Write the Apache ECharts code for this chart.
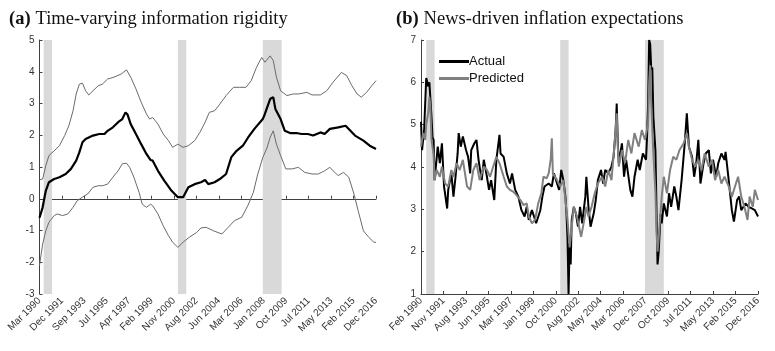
<!DOCTYPE html>
<html><head><meta charset="utf-8">
<script src="https://cdn.jsdelivr.net/npm/echarts@6/dist/echarts.min.js"></script>
<style>html,body{margin:0;padding:0;background:#fff}#c{width:775px;height:351px}</style>
</head><body><div id="c"></div>
<script>
// ---- tick labels ----
const leftTicks = ["Mar 1990","Dec 1991","Sep 1993","Jul 1995","Apr 1997","Feb 1999","Nov 2000","Aug 2002","Jun 2004","Mar 2006","Jan 2008","Oct 2009","Jul 2011","May 2013","Feb 2015","Dec 2016"];
const rightTicks = ["Feb 1990","Nov 1991","Aug 1993","Jun 1995","Mar 1997","Jan 1999","Oct 2000","Aug 2002","May 2004","Mar 2006","Dec 2007","Oct 2009","Jul 2011","May 2013","Feb 2015","Dec 2016"];
const leftLastIndex = 321;   // months since Mar 1990
const rightLastIndex = 322;  // months since Feb 1990
// ---- recession bands (month index) ----
const leftRecessions = [[4,12],[132,140],[213,231]];
const rightRecessions = [[5,13],[133,141],[214,232]];
// ---- panel (a): [month index, value] ----
const rigidityMid = [[0,-0.6],[3,-0.27],[6,0.25],[9,0.52],[14,0.62],[19,0.68],[25,0.78],[30,0.94],[35,1.2],[38,1.46],[41,1.78],[44,1.88],[51,1.99],[57,2.04],[62,2.04],[65,2.14],[70,2.25],[75,2.41],[79,2.51],[82,2.72],[84,2.65],[87,2.35],[92,2.04],[97,1.72],[102,1.41],[106,1.22],[108,1.2],[113,0.88],[119,0.57],[126,0.25],[132,0.05],[137,0.05],[142,0.36],[148,0.46],[154,0.52],[158,0.59],[161,0.46],[167,0.52],[172,0.62],[178,0.78],[183,1.31],[188,1.51],[194,1.67],[199,1.93],[205,2.2],[213,2.51],[215,2.67],[220,3.14],[223,3.2],[225,2.83],[230,2.51],[234,2.14],[239,2.07],[245,2.07],[250,2.04],[256,2.04],[261,1.99],[268,2.09],[272,2.04],[277,2.2],[285,2.25],[292,2.3],[295,2.2],[301,1.99],[309,1.83],[315,1.67],[321,1.57]];
const rigidityUpper = [[0,0.6],[3,0.62],[6,1.04],[9,1.36],[14,1.51],[19,1.67],[24,1.99],[28,2.3],[32,2.77],[35,3.3],[38,3.61],[41,3.64],[44,3.4],[47,3.27],[51,3.4],[56,3.56],[60,3.61],[65,3.77],[71,3.83],[78,3.93],[83,4.06],[87,3.83],[92,3.46],[97,3.04],[102,2.67],[105,2.51],[108,2.56],[113,2.35],[118,2.04],[123,1.83],[127,1.62],[132,1.72],[137,1.62],[142,1.67],[148,1.83],[153,2.09],[158,2.41],[162,2.72],[167,2.77],[172,2.98],[178,3.25],[185,3.51],[191,3.51],[197,3.51],[202,3.72],[207,4.14],[212,4.45],[215,4.3],[220,4.5],[223,4.35],[226,3.83],[230,3.4],[236,3.25],[242,3.3],[247,3.3],[255,3.35],[260,3.27],[268,3.27],[274,3.4],[280,3.67],[288,3.98],[293,3.88],[298,3.56],[303,3.3],[307,3.2],[312,3.35],[317,3.56],[321,3.72]];
const rigidityLower = [[0,-2.1],[3,-1.43],[6,-1.01],[9,-0.74],[14,-0.53],[17,-0.48],[22,-0.53],[27,-0.48],[32,-0.27],[36,-0.06],[41,0.05],[46,0.15],[51,0.36],[56,0.41],[60,0.41],[65,0.46],[70,0.68],[75,0.88],[79,1.1],[83,1.12],[86,0.99],[90,0.68],[95,0.2],[98,-0.17],[102,-0.27],[106,-0.17],[108,-0.22],[113,-0.48],[118,-0.85],[123,-1.16],[127,-1.37],[132,-1.53],[137,-1.37],[143,-1.21],[150,-1.06],[154,-0.92],[159,-0.9],[166,-1.01],[174,-1.11],[180,-0.9],[186,-0.69],[193,-0.58],[199,-0.2],[204,0.2],[208,0.75],[213,1.3],[217,1.6],[220,1.93],[223,2.14],[226,1.72],[230,1.36],[235,0.94],[241,0.94],[247,0.99],[253,0.83],[260,0.78],[266,0.78],[272,0.88],[277,0.99],[280,0.88],[285,0.73],[290,0.83],[295,0.68],[300,0.15],[304,-0.38],[309,-1.01],[314,-1.21],[319,-1.37],[321,-1.37]];
// ---- panel (b): [month index, value] ----
const actual = [[0,5.07],[1,4.4],[3,4.87],[4,5.5],[5,6.1],[6,6.0],[7,5.9],[8,6.0],[9,5.6],[10,5.2],[11,4.7],[12,4.64],[13,3.69],[16,4.48],[18,4.09],[20,4.56],[22,3.54],[25,3.02],[26,3.46],[29,3.85],[31,3.3],[33,3.77],[35,4.32],[36,4.8],[38,4.48],[40,4.72],[43,4.4],[45,4.24],[47,3.85],[48,4.4],[51,4.56],[53,4.64],[55,4.17],[58,3.69],[60,4.17],[63,3.77],[65,3.46],[67,3.69],[70,3.22],[72,4.17],[75,4.76],[76,4.32],[79,4.24],[82,3.85],[85,3.61],[87,3.85],[90,3.46],[93,3.3],[96,2.98],[99,2.83],[101,3.06],[103,2.75],[106,2.98],[108,2.83],[110,2.67],[114,2.98],[116,3.3],[118,3.54],[122,3.61],[125,3.54],[127,3.85],[130,3.61],[132,3.46],[134,3.93],[136,3.69],[138,3.3],[139,2.9],[140,2.3],[141,1.0],[142,2.2],[143,1.7],[144,2.75],[146,3.06],[148,2.9],[150,2.59],[152,3.06],[154,2.67],[157,3.3],[158,3.77],[160,3.06],[162,2.59],[165,2.9],[167,3.22],[169,3.69],[172,3.93],[174,3.61],[176,3.93],[179,3.85],[182,4.01],[184,4.24],[186,4.87],[187,5.5],[188,4.6],[189,4.09],[192,4.56],[194,3.77],[196,4.17],[200,3.46],[202,3.3],[204,3.77],[207,4.17],[209,3.93],[212,4.32],[215,4.17],[216,4.72],[217,5.5],[218,7.0],[219,6.9],[220,6.3],[221,6.35],[222,5.2],[224,4.38],[225,3.0],[226,1.7],[227,1.96],[229,2.89],[230,2.67],[232,3.14],[235,2.83],[237,3.38],[239,3.06],[242,3.54],[244,3.3],[246,2.98],[249,3.69],[252,4.56],[254,5.27],[256,4.48],[259,4.24],[261,3.77],[263,4.09],[265,4.64],[267,3.61],[270,4.09],[272,4.32],[275,4.4],[277,3.85],[279,4.17],[282,3.77],[284,4.09],[287,4.32],[290,4.17],[291,4.36],[294,3.69],[297,2.98],[299,2.71],[302,3.22],[304,3.3],[306,2.98],[310,3.14],[313,3.06],[316,3.02],[319,2.98],[322,2.83]];
const predicted = [[0,4.48],[2,4.8],[4,4.64],[5,5.0],[7,5.3],[8,5.66],[9,5.4],[10,4.64],[12,4.3],[13,3.69],[15,3.93],[18,3.77],[20,4.01],[23,3.61],[26,3.54],[29,3.93],[31,3.77],[34,4.09],[37,3.93],[40,4.17],[44,3.54],[47,3.46],[50,3.93],[53,4.09],[56,3.69],[60,4.01],[63,3.93],[66,3.77],[69,4.01],[72,4.24],[75,4.09],[79,3.77],[82,3.54],[85,3.46],[88,3.42],[91,3.34],[95,3.22],[98,3.1],[101,3.14],[103,2.83],[106,2.67],[109,2.75],[112,3.14],[115,3.38],[117,3.77],[120,3.73],[122,3.85],[124,4.2],[125,4.68],[126,3.85],[130,3.69],[133,3.54],[136,3.69],[138,3.22],[140,2.75],[142,2.1],[144,2.59],[146,3.06],[149,2.83],[151,2.59],[153,2.35],[156,2.75],[158,3.06],[160,2.83],[163,3.06],[166,3.38],[169,3.61],[173,3.77],[176,3.54],[179,3.93],[182,3.69],[185,4.56],[187,5.27],[188,4.5],[189,4.01],[192,4.4],[195,4.09],[198,4.64],[201,4.32],[204,4.8],[208,4.48],[211,4.87],[214,4.64],[217,5.03],[218,6.0],[219,6.4],[220,5.5],[222,4.32],[224,3.4],[225,2.5],[226,2.0],[227,2.28],[230,3.3],[232,3.77],[235,3.38],[238,3.93],[241,4.24],[244,4.17],[247,4.4],[251,4.56],[254,4.8],[256,4.48],[259,4.17],[262,4.01],[265,4.17],[268,3.93],[271,4.32],[275,4.01],[278,4.17],[281,3.69],[284,3.93],[287,3.61],[290,3.77],[294,3.54],[297,3.3],[300,3.54],[303,3.77],[306,3.3],[309,3.06],[312,2.75],[314,3.3],[317,3.06],[319,3.46],[322,3.22]];

const AX = '#404040', TXT = '#333333', SANS = 'Liberation Sans, Arial, sans-serif', SERIF = 'Liberation Serif, serif';
function tickPositions(n, last){ const a=[]; for(let k=0;k<n;k++) a.push(k*last/(n-1)); return a; }
function xAxisFor(gridIndex, labels, last){
  const pos = tickPositions(labels.length, last);
  return {type:'value', gridIndex, min:0, max:last,
    axisLine:{show:true, lineStyle:{color:AX, width:1}},
    axisTick:{show:true, inside:true, length:3, customValues:pos, lineStyle:{color:AX}},
    axisLabel:{customValues:pos, rotate:45, margin:5, color:TXT, fontFamily:SANS, fontSize:10,
      formatter:(v)=>labels[Math.round(v*(labels.length-1)/last)]},
    splitLine:{show:false}};
}
function yAxisFor(gridIndex, min, max){
  return {type:'value', gridIndex, min, max, interval:1,
    axisLine:{show:true, lineStyle:{color:AX, width:1}},
    axisTick:{show:true, inside:true, length:3, lineStyle:{color:AX}},
    axisLabel:{color:TXT, fontFamily:SANS, fontSize:10, margin:5},
    splitLine:{show:false}};
}
function bands(xi, yi, rec){
  return {type:'line', xAxisIndex:xi, yAxisIndex:yi, data:[], silent:true, z:1,
    markArea:{silent:true, itemStyle:{color:'#d9d9d9'}, data: rec.map(r=>[{xAxis:r[0]},{xAxis:r[1]}])}};
}
const titleRich = {b:{fontFamily:SERIF, fontWeight:'bold', fontSize:18.5, color:'#111'}, n:{fontFamily:SERIF, fontWeight:'normal', fontSize:18.5, color:'#111'}};
const chart = echarts.init(document.getElementById('c'), null, {renderer:'canvas'});
chart.setOption({
  animation:false,
  title:[
    {left:4, top:5, text:'{b|(a)} {n|Time-varying information rigidity}', textStyle:{fontWeight:'normal', rich:titleRich}},
    {left:391, top:5, text:'{b|(b)} {n|News-driven inflation expectations}', textStyle:{fontWeight:'normal', rich:titleRich}}
  ],
  legend:{left:434, top:50, orient:'vertical', itemGap:4, itemWidth:30, itemHeight:3, icon:'rect',
    textStyle:{fontFamily:SANS, fontSize:13, color:'#111', padding:[0,0,0,-5]},
    data:['Actual','Predicted']},
  grid:[
    {left:39.5, right:399, top:40, bottom:57},
    {left:421, right:17, top:40, bottom:57}
  ],
  xAxis:[xAxisFor(0,leftTicks,leftLastIndex), xAxisFor(1,rightTicks,rightLastIndex)],
  yAxis:[yAxisFor(0,-3,5), yAxisFor(1,1,7)],
  series:[
    bands(0,0,leftRecessions),
    bands(1,1,rightRecessions),
    {name:'upper', type:'line', xAxisIndex:0, yAxisIndex:0, data:rigidityUpper, showSymbol:false, z:3, lineStyle:{color:'#6a6a6a', width:1}},
    {name:'lower', type:'line', xAxisIndex:0, yAxisIndex:0, data:rigidityLower, showSymbol:false, z:3, lineStyle:{color:'#6a6a6a', width:1}},
    {name:'mid', type:'line', xAxisIndex:0, yAxisIndex:0, data:rigidityMid, showSymbol:false, z:4, lineStyle:{color:'#000', width:2.2}},
    {name:'Actual', type:'line', xAxisIndex:1, yAxisIndex:1, data:actual, showSymbol:false, z:3, itemStyle:{color:'#000'}, lineStyle:{color:'#000', width:2}},
    {name:'Predicted', type:'line', xAxisIndex:1, yAxisIndex:1, data:predicted, showSymbol:false, z:4, itemStyle:{color:'#808080'}, lineStyle:{color:'#808080', width:2}}
  ]
});
</script></body></html>
